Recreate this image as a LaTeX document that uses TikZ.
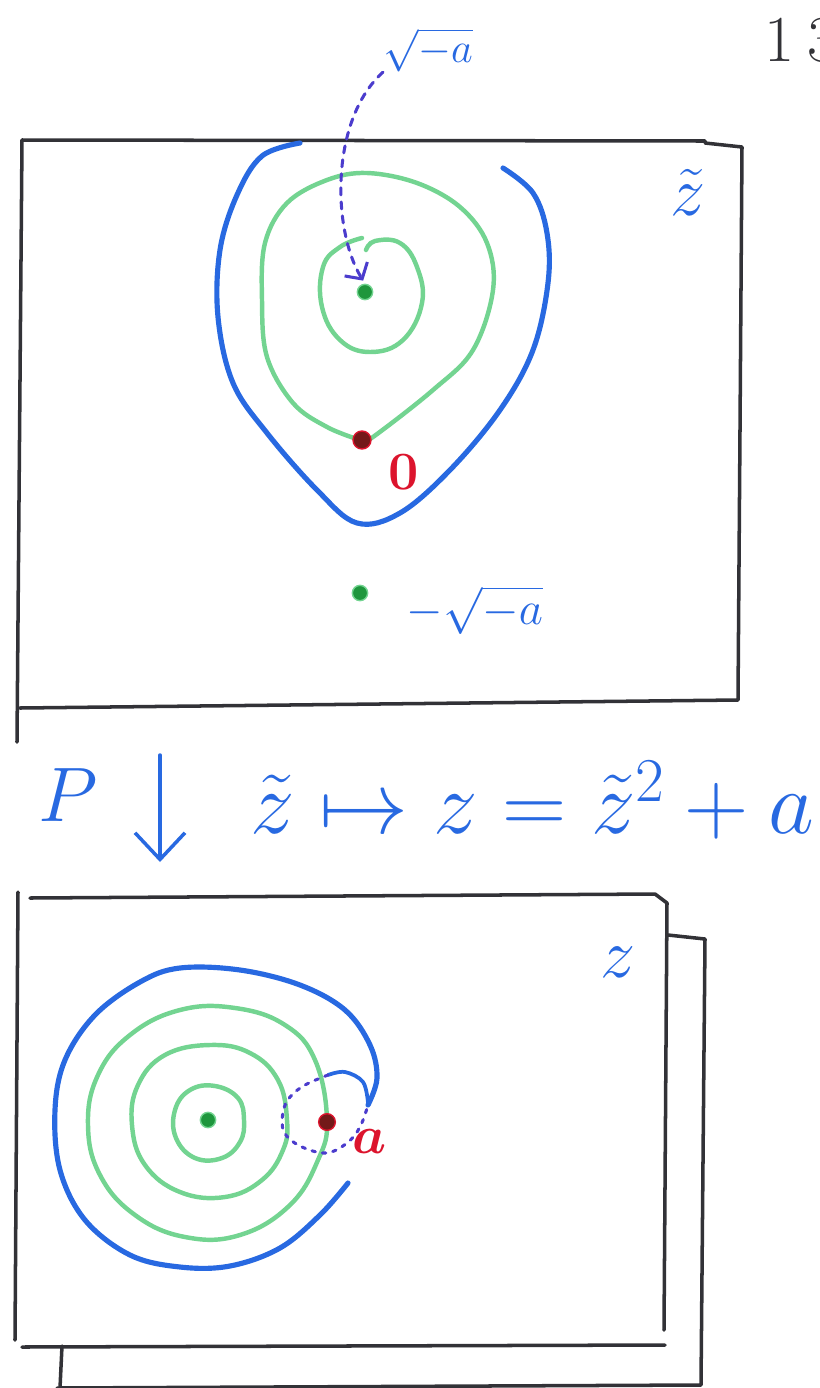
\documentclass[tikz,border=0pt]{standalone}
\usepackage{fix-cm}
\usepackage{amsmath}
\usetikzlibrary{arrows.meta,positioning}
\definecolor{penblue}{RGB}{40,105,225}
\definecolor{pengreen}{RGB}{115,212,145}
\definecolor{dotgreen}{RGB}{30,150,60}
\definecolor{penred}{RGB}{220,20,45}
\definecolor{dotred}{RGB}{115,25,25}
\definecolor{penpurple}{RGB}{75,60,205}
\definecolor{penblack}{RGB}{50,50,55}

\begin{document}
\begin{tikzpicture}[x=0.03cm, y=-0.03cm, line cap=round, line join=round,
    frame/.style={penblack, line width=3pt},
    bluepath/.style={penblue, line width=4.4pt},
    greenpath/.style={pengreen, line width=3.8pt},
    dotpath/.style={penpurple, line width=2.6pt},
    gdot/.style={circle, fill=dotgreen, draw=pengreen, line width=1.2pt, inner sep=0pt, minimum size=0.46cm},
    rdot/.style={circle, fill=dotred, draw=penred, line width=1.2pt, inner sep=0pt, minimum size=0.54cm},
    bluetext/.style={text=penblue, inner sep=0pt},
    redtext/.style={text=penred, inner sep=0pt}]
    \useasboundingbox (0,0) rectangle (820,1388);

    % upper sheet
    \draw[frame] (17,742) -- (22,140) -- (705,141) (705,143) -- (742,147) -- (740,430) -- (738,700) -- (20,708);
    \node[text=penblack, inner sep=0pt, anchor=west, font=\fontsize{56}{60}\selectfont] (pagenum) at (764,40) {1\hspace{0.2em}3};
    \node[bluetext, font=\fontsize{60}{66}\selectfont] (ztilde) at (688,192) {$\tilde z$};

    \draw[bluepath] plot[smooth, tension=0.6] coordinates {(300,143) (262,156) (237,195) (220,250) (218,317) (233,383) (267,433) (317,490) (357,523) (400,513) (450,470) (500,410) (533,350) (548,283) (547,233) (533,193) (503,168)};
    \draw[greenpath] plot[smooth, tension=0.6] coordinates {(360,440) (327,427) (293,403) (267,357) (262,300) (265,243) (287,203) (327,180) (367,173) (417,183) (460,207) (487,243) (493,290) (473,350) (433,390) (373,437) (362,441)};
    \draw[greenpath] plot[smooth, tension=0.7] coordinates {(366,250) (375,241) (400,243) (417,267) (422,303) (403,340) (370,352) (340,340) (322,307) (323,267) (340,247) (362,238)};

    \node[gdot] (rootup) at (365,292) {};
    \node[rdot] (origin) at (362,440) {};
    \node[gdot] (rootdown) at (360,593) {};
    \node[redtext, font=\bfseries\fontsize{46}{50}\selectfont] (zerolabel) at (404,472) {0};
    \node[bluetext, font=\fontsize{36}{40}\selectfont] (rootuplabel) at (428,50) {$\sqrt{-a}$};
    \node[bluetext, font=\fontsize{40}{44}\selectfont] (rootdownlabel) at (475,610) {$-\sqrt{-a}$};
    \draw[dotpath, dash pattern=on 6pt off 6pt, -{Straight Barb[length=0.35cm,width=0.8cm]}, shorten >=3pt]
        (rootuplabel.south west) .. controls (330,120) and (332,230) .. (rootup.north);

    % the map
    \coordinate (ptop) at (160,755);
    \coordinate (pbot) at (160,862);
    \draw[penblue, line width=3pt, -{Straight Barb[length=0.8cm,width=1.5cm]}] (ptop) -- (pbot);
    \node[bluetext, font=\fontsize{66}{72}\selectfont] (plabel) at (68,795) {$P$};
    \node[bluetext, anchor=west, font=\fontsize{76}{82}\selectfont] (maplabel) at (250,800) {$\tilde z \mapsto z = \tilde z^2 + a$};

    % lower sheet
    \draw[frame] (30,898) -- (655,894) -- (667,903) -- (664,1330);
    \draw[frame] (18,892) -- (15,1340);
    \draw[frame] (22,1347) -- (665,1345);
    \draw[frame] (668,935) -- (705,939) -- (701,1385) -- (57,1388);
    \draw[frame] (62,1346) -- (60,1388);
    \node[bluetext, font=\fontsize{60}{66}\selectfont] (zlabel) at (618,962) {$z$};

    \draw[greenpath] plot[smooth cycle, tension=0.7] coordinates {(244,1120) (238,1098) (215,1086) (190,1090) (175,1110) (176,1138) (195,1158) (222,1158) (240,1142)};
    \draw[greenpath] plot[smooth cycle, tension=0.7] coordinates {(287,1120) (278,1080) (250,1053) (210,1045) (165,1055) (138,1085) (132,1125) (145,1165) (180,1192) (225,1197) (262,1180) (283,1150)};
    \draw[greenpath] plot[smooth cycle, tension=0.7] coordinates {(327,1120) (315,1060) (285,1025) (235,1008) (180,1010) (130,1035) (98,1075) (88,1125) (100,1175) (135,1215) (185,1237) (240,1235) (290,1205) (318,1160)};
    \draw[bluepath] plot[smooth, tension=0.6] coordinates {(348,1183) (320,1215) (280,1248) (230,1266) (180,1267) (130,1255) (85,1220) (60,1170) (55,1110) (65,1060) (95,1015) (140,982) (180,968) (240,970) (300,985) (345,1010) (370,1045) (377,1078) (368,1105)};
    \draw[bluepath, line width=3.2pt] plot[smooth, tension=0.6] coordinates {(368,1103) (363,1082) (345,1072) (328,1075)};
    \draw[dotpath, dash pattern=on 3pt off 6pt] plot[smooth, tension=0.6] coordinates {(328,1075) (305,1085) (290,1097) (283,1112) (284,1132) (300,1146) (326,1153) (347,1143) (360,1127) (368,1105)};

    \node[gdot] (center) at (208,1120) {};
    \node[rdot, minimum size=0.5cm] (apoint) at (327,1122) {};
    \node[redtext, font=\bfseries\fontsize{46}{50}\selectfont] (alabel) at (370,1142) {$\boldsymbol{a}$};
\end{tikzpicture}
\end{document}
